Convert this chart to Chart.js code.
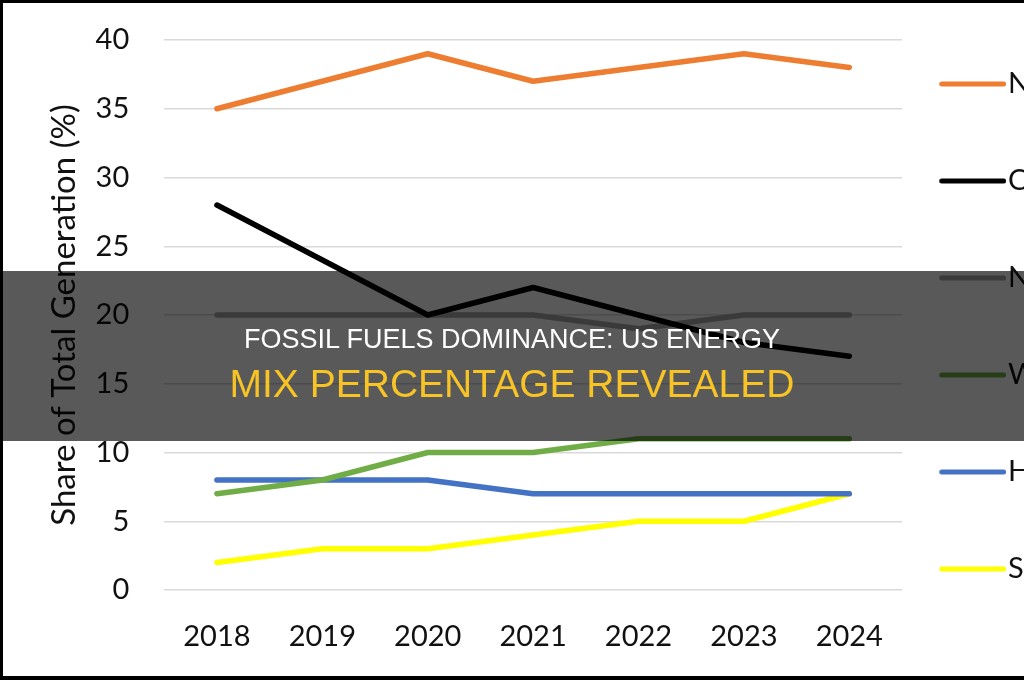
<!DOCTYPE html>
<html>
<head>
<meta charset="utf-8">
<script src="https://cdn.jsdelivr.net/npm/chart.js@4"></script>
<style>
  html, body { margin: 0; padding: 0; background: #fff; overflow: hidden; }
  #wrap { position: relative; width: 1040px; height: 680px; }
  #frame {
    position: absolute; left: 0; top: 0; width: 1024px; height: 680px;
    box-sizing: border-box; border-left: 3px solid #000; border-top: 3px solid #000;
    border-bottom: 4px solid #000; pointer-events: none;
  }
  #banner {
    position: absolute; left: 0; top: 271px; width: 1024px; height: 170px;
    background: rgba(0, 0, 0, 0.65); text-align: center;
    font-family: "Liberation Sans", Arial, sans-serif;
  }
  #banner .l1 { position: absolute; left: 0; right: 0; top: 53px; color: #fff; font-size: 27px; line-height: 30px; }
  #banner .l2 { position: absolute; left: 0; right: 0; top: 91px; color: #f7c325; font-size: 39px; line-height: 44px; }
</style>
</head>
<body>
<div id="wrap">
  <canvas id="mixChart"></canvas>
</div>
<div id="banner">
  <div class="l1">FOSSIL FUELS DOMINANCE: US ENERGY</div>
  <div class="l2">MIX PERCENTAGE REVEALED</div>
</div>
<div id="frame"></div>
<script>
// data
const years = ['2018', '2019', '2020', '2021', '2022', '2023', '2024'];
const naturalGas = [35, 37, 39, 37, 38, 39, 38];
const coal = [28, 24, 20, 22, 20, 18, 17];
const nuclear = [20, 20, 20, 20, 19, 20, 20];
const wind = [7, 8, 10, 10, 11, 11, 11];
const hydro = [8, 8, 8, 7, 7, 7, 7];
const solar = [2, 3, 3, 4, 5, 5, 7];
const yMin = 0, yMax = 40, yStep = 5;

const seriesNames = ['Natural Gas', 'Coal', 'Nuclear', 'Wind', 'Hydro', 'Solar'];
const seriesData = [naturalGas, coal, nuclear, wind, hydro, solar];
const seriesColors = ['#ED7D31', '#000000', '#A5A5A5', '#70AD47', '#4472C4', '#FFFF00'];

const FONT = 'Lato, "Open Sans", sans-serif';
const TEXT = '#111';

// legend swatch: a short thick line, drawn off-centre so the label sits close to it
function lineSwatch(color) {
    const c = document.createElement('canvas');
    c.width = 107;
    c.height = 8;
    const g = c.getContext('2d');
    g.strokeStyle = color;
    g.lineWidth = 5;
    g.lineCap = 'round';
    g.beginPath();
    g.moveTo(42.5, 4);
    g.lineTo(104.5, 4);
    g.stroke();
    return c;
}

document.addEventListener('DOMContentLoaded', function() {
    const ctx = document.getElementById('mixChart').getContext('2d');
    new Chart(ctx, {
        type: 'line',
        data: {
            labels: years,
            datasets: seriesNames.map((name, i) => ({
                label: name,
                data: seriesData[i],
                borderColor: seriesColors[i],
                backgroundColor: seriesColors[i],
                borderWidth: 5.5,
                borderCapStyle: 'round',
                borderJoinStyle: 'round',
                pointRadius: 0,
                tension: 0,
                fill: false
            }))
        },
        options: {
            responsive: true,
            maintainAspectRatio: false,
            animation: false,
            devicePixelRatio: 1,
            layout: { padding: { left: 45, top: 40, right: 0, bottom: 28.5 } },
            plugins: {
                tooltip: { enabled: false },
                legend: {
                    position: 'right',
                    align: 'end',
                    maxWidth: 138,
                    labels: {
                        usePointStyle: true,
                        pointStyleWidth: 81.5,
                        padding: 10,
                        color: TEXT,
                        font: { family: FONT, size: 29, lineHeight: 3 },
                        generateLabels(chart) {
                            const items = Chart.defaults.plugins.legend.labels.generateLabels(chart);
                            return items.map(item => Object.assign(item, {
                                text: [item.text],
                                pointStyle: lineSwatch(item.strokeStyle)
                            }));
                        }
                    }
                }
            },
            scales: {
                x: {
                    offset: true,
                    grid: {
                        color: 'transparent', drawOnChartArea: false,
                        drawTicks: true, tickLength: 32.5, tickColor: 'transparent'
                    },
                    border: { display: false },
                    ticks: {
                        color: TEXT,
                        padding: 0,
                        font: { family: FONT, size: 29, lineHeight: 1 }
                    }
                },
                y: {
                    min: yMin,
                    max: yMax,
                    grid: {
                        color: '#d9d9d9', lineWidth: 1.5,
                        drawTicks: true, tickLength: 35, tickColor: 'transparent'
                    },
                    border: { display: false },
                    ticks: {
                        stepSize: yStep,
                        color: TEXT,
                        padding: 0,
                        font: { family: FONT, size: 29 }
                    },
                    title: {
                        display: true,
                        text: 'Share of Total Generation (%)',
                        color: TEXT,
                        padding: { top: 0, bottom: 11 },
                        font: { family: FONT, size: 33 }
                    }
                }
            }
        }
    });
});
</script>
</body>
</html>
